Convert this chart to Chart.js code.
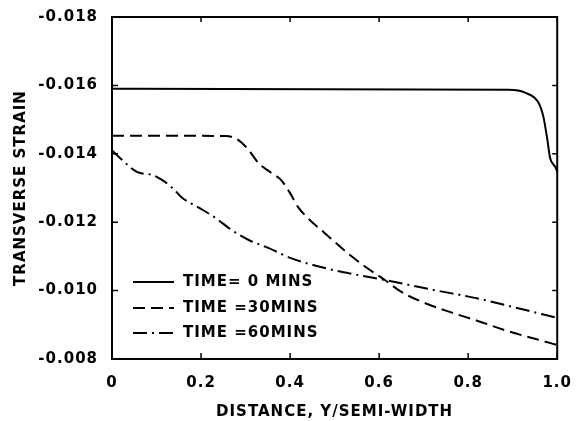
<!DOCTYPE html>
<html><head><meta charset="utf-8">
<script src="https://cdn.jsdelivr.net/npm/chart.js@4/dist/chart.umd.min.js"></script>
<style>html,body{margin:0;padding:0;background:#fff}#wrap{width:579px;height:421px}</style>
</head><body><div id="wrap"><canvas id="c" width="579" height="421"></canvas></div>
<script>
const xTicks = [0, 0.2, 0.4, 0.6, 0.8, 1.0];
const yTicks = [-0.018, -0.016, -0.014, -0.012, -0.010, -0.008];
const seriesLabels = ["TIME= 0 MINS", "TIME =30MINS", "TIME =60MINS"];

const x0 = [0, 0.891, 0.929, 0.958, 0.969, 0.978, 0.984, 0.996, 1.0];
const y0 = [-0.0159, -0.01587, -0.01578, -0.01549, -0.01508, -0.0144, -0.01388, -0.01361, -0.01347];

const x30 = [0, 0.256, 0.284, 0.307, 0.329, 0.358, 0.380, 0.400, 0.418, 0.440, 0.478, 0.529, 0.573, 0.613, 0.650, 0.700, 0.760, 0.820, 0.890, 0.950, 1.0];
const y30 = [-0.01453, -0.01452, -0.0144, -0.01411, -0.01373, -0.01344, -0.01323, -0.01285, -0.01244, -0.01212, -0.01168, -0.0111, -0.01066, -0.01031, -0.00996, -0.00965, -0.00937, -0.00912, -0.00881, -0.00859, -0.00841];

const x60 = [0, 0.018, 0.056, 0.091, 0.113, 0.136, 0.158, 0.196, 0.233, 0.269, 0.307, 0.351, 0.402, 0.478, 0.551, 0.613, 0.722, 0.818, 0.929, 1.0];
const y60 = [-0.0141, -0.01388, -0.01347, -0.01338, -0.01323, -0.013, -0.01271, -0.01242, -0.01212, -0.01177, -0.01148, -0.01125, -0.01095, -0.01066, -0.01046, -0.01031, -0.01002, -0.00978, -0.00943, -0.0092];

const pts = (xs, ys) => xs.map((x, i) => ({x: x, y: ys[i]}));
const FONT = {family: "'DejaVu Sans', sans-serif", size: 15, weight: 'bold'};

const spacing = {
  id: 'spacing',
  beforeUpdate(chart) { chart.ctx.letterSpacing = '1px'; },
  beforeDraw(chart) { chart.ctx.letterSpacing = '1px'; }
};

const frameTicks = {
  id: 'frameTicks',
  afterDatasetsDraw(chart) {
    const {ctx, chartArea: a, scales: {x, y}} = chart;
    ctx.save();
    ctx.strokeStyle = '#000';
    ctx.lineWidth = 2;
    ctx.strokeRect(a.left, a.top, a.right - a.left, a.bottom - a.top);
    ctx.lineWidth = 1.5;
    ctx.beginPath();
    xTicks.forEach(v => { const px = x.getPixelForValue(v); ctx.moveTo(px, a.bottom); ctx.lineTo(px, a.bottom - 6); ctx.moveTo(px, a.top); ctx.lineTo(px, a.top + 5); });
    yTicks.forEach(v => { const py = y.getPixelForValue(v); ctx.moveTo(a.left, py); ctx.lineTo(a.left + 6, py); ctx.moveTo(a.right, py); ctx.lineTo(a.right - 5, py); });
    ctx.stroke();
    const ds = chart.data.datasets;
    ctx.font = "bold 15px 'DejaVu Sans', sans-serif";
    ctx.letterSpacing = '1px';
    ctx.fillStyle = '#000';
    ctx.textBaseline = 'middle';
    const rows = [282, 308, 333];
    ds.forEach((d, i) => {
      ctx.lineWidth = 2;
      ctx.setLineDash(d.borderDash || []);
      ctx.beginPath();
      ctx.moveTo(a.left + 21, rows[i]);
      ctx.lineTo(a.left + 62, rows[i]);
      ctx.stroke();
      ctx.setLineDash([]);
      ctx.fillText(d.label, a.left + 71, rows[i]);
    });
    ctx.restore();
  }
};

new Chart(document.getElementById('c'), {
  type: 'line',
  data: {
    datasets: [
      {label: seriesLabels[0], data: pts(x0, y0), borderColor: '#000', borderWidth: 2, pointRadius: 0, cubicInterpolationMode: 'monotone', fill: false},
      {label: seriesLabels[1], data: pts(x30, y30), borderColor: '#000', borderWidth: 2, borderDash: [12, 6], pointRadius: 0, cubicInterpolationMode: 'monotone', fill: false},
      {label: seriesLabels[2], data: pts(x60, y60), borderColor: '#000', borderWidth: 2, borderDash: [14, 5, 2, 5], pointRadius: 0, cubicInterpolationMode: 'monotone', fill: false}
    ]
  },
  options: {
    responsive: false,
    animation: false,
    layout: {padding: {top: 17, right: 17, left: 0, bottom: 0}},
    plugins: {legend: {display: false}, tooltip: {enabled: false}},
    scales: {
      x: {
        type: 'linear', min: 0, max: 1.0,
        afterBuildTicks: s => { s.ticks = xTicks.map(v => ({value: v})); },
        afterFit: s => { s.height = 62; },
        grid: {display: false},
        border: {display: false},
        ticks: {color: '#000', font: FONT, padding: 7, maxRotation: 0,
          callback: v => (v === 0 ? '0' : v.toFixed(1))},
        title: {display: true, text: 'DISTANCE, Y/SEMI-WIDTH', color: '#000', font: FONT, padding: {top: 4, bottom: 0}}
      },
      y: {
        type: 'linear', min: -0.018, max: -0.008, reverse: true,
        afterBuildTicks: s => { s.ticks = yTicks.map(v => ({value: v})); },
        afterFit: s => { s.width = 112; },
        grid: {display: false},
        border: {display: false},
        ticks: {color: '#000', font: FONT, padding: 6, callback: v => v.toFixed(3)},
        title: {display: true, text: 'TRANSVERSE STRAIN', color: '#000', font: FONT, padding: {top: 12, bottom: 0}}
      }
    }
  },
  plugins: [spacing, frameTicks]
});
</script>
</body></html>
